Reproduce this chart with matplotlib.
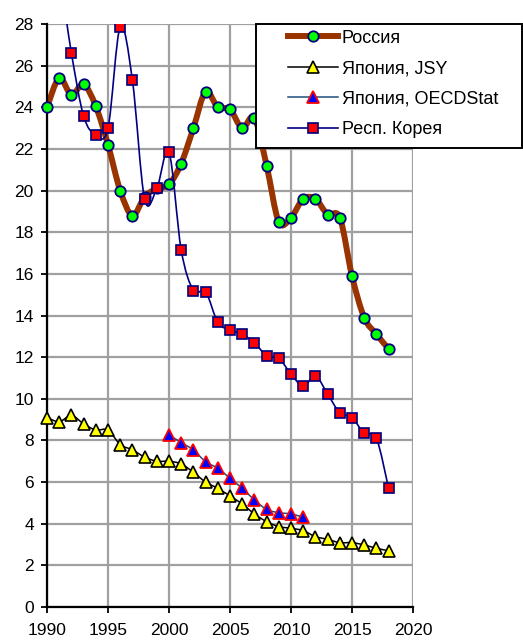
import numpy as np
import matplotlib.pyplot as plt
from matplotlib.path import Path
from matplotlib.patches import PathPatch, Rectangle
from matplotlib.lines import Line2D

plt.rcParams['font.family'] = ['Liberation Sans', 'DejaVu Sans']

# данные
years_ru = list(range(1990, 2019))
russia = [24.0, 25.4, 24.6, 25.1, 24.05, 22.2, 20.0, 18.8, 19.7, 20.1,
          20.3, 21.3, 23.0, 24.75, 24.0, 23.9, 23.0, 23.5, 21.2, 18.5,
          18.7, 19.6, 19.6, 18.85, 18.7, 15.9, 13.9, 13.1, 12.4]

years_jsy = list(range(1990, 2019))
japan_jsy = [9.1, 8.9, 9.2, 8.8, 8.5, 8.5, 7.8, 7.55, 7.2, 7.0,
             7.0, 6.87, 6.47, 6.0, 5.7, 5.33, 4.95, 4.47, 4.1, 3.86,
             3.78, 3.67, 3.38, 3.25, 3.09, 3.09, 2.98, 2.82, 2.7]

years_oecd = list(range(2000, 2012))
japan_oecd = [8.26, 7.9, 7.54, 6.98, 6.66, 6.18, 5.7, 5.14, 4.69, 4.53, 4.47, 4.31]

years_kor = list(range(1990, 2019))
korea = [31.2, 30.3, 26.6, 23.58, 22.67, 23.0, 27.87, 25.3, 19.6, 20.1,
         21.84, 17.15, 15.2, 15.14, 13.67, 13.3, 13.1, 12.7, 12.06, 11.94,
         11.19, 10.6, 11.1, 10.23, 9.33, 9.1, 8.34, 8.1, 5.7]

labels = ['Россия', 'Япония, JSY', 'Япония, OECDStat', 'Респ. Корея']


def smooth_path(x, y):
    # сглаженная линия как в Excel (кубические Безье)
    x = np.asarray(x, float)
    y = np.asarray(y, float)
    n = len(x)
    verts = [(x[0], y[0])]
    codes = [Path.MOVETO]
    for i in range(n - 1):
        i0 = max(i - 1, 0)
        i3 = min(i + 2, n - 1)
        c1 = (x[i] + (x[i + 1] - x[i0]) / 6, y[i] + (y[i + 1] - y[i0]) / 6)
        c2 = (x[i + 1] - (x[i3] - x[i]) / 6, y[i + 1] - (y[i3] - y[i]) / 6)
        verts += [c1, c2, (x[i + 1], y[i + 1])]
        codes += [Path.CURVE4] * 3
    return Path(verts, codes)


fig = plt.figure(figsize=(5.23, 6.42), dpi=100)
ax = fig.add_axes([47 / 523, 35 / 642, 366 / 523, 583 / 642])

series = [
    (years_ru, russia, dict(color='#993300', lw=4.3), dict(marker='o', ms=7.5, mfc='#00FF00', mec='#000080', mew=1.3), False),
    (years_jsy, japan_jsy, dict(color='black', lw=1.1), dict(marker='^', ms=8.5, mfc='#FFFF00', mec='black', mew=1.2), False),
    (years_oecd, japan_oecd, dict(color='#1F4E79', lw=1.1), dict(marker='^', ms=8.5, mfc='#0000FF', mec='#FF0000', mew=1.3), False),
    (years_kor, korea, dict(color='#000080', lw=1.2), dict(marker='s', ms=7, mfc='#FF0000', mec='#000080', mew=1.2), True),
]

handles = []
for k, (xs, ys, lstyle, mstyle, clip) in enumerate(series):
    patch = PathPatch(smooth_path(xs, ys), fill=False, edgecolor=lstyle['color'],
                      lw=lstyle['lw'], zorder=2 + k * 2, capstyle='round', joinstyle='round')
    ax.add_patch(patch)
    ax.plot(xs, ys, ls='none', zorder=3 + k * 2, clip_on=clip, **mstyle)
    handles.append(Line2D([], [], ls='-', **lstyle, **mstyle))

ax.set_xlim(1990, 2020)
ax.set_ylim(0, 28)
ax.set_xticks(range(1990, 2021, 5))
ax.set_yticks(range(0, 29, 2))
ax.grid(True, color='#A0A0A0', lw=1.6)
ax.set_axisbelow(True)
for s in ['top', 'right']:
    ax.spines[s].set_visible(False)
ax.spines['left'].set_linewidth(1.6)
ax.spines['bottom'].set_linewidth(1.6)
ax.tick_params(direction='out', length=4.5, width=1.3, labelsize=12.5)
ax.tick_params(axis='y', pad=5)
ax.tick_params(axis='x', pad=7)

# рамка легенды (шире содержимого, как в Excel)
fig.patches.append(Rectangle((256 / 523, (642 - 148) / 642), 266 / 523, 124 / 642,
                             transform=fig.transFigure, facecolor='white',
                             edgecolor='black', lw=1.4, zorder=3))
fig.legend(handles, labels, loc='upper left', bbox_to_anchor=(285 / 523, (642 - 27) / 642),
           frameon=False, fontsize=13, handlelength=2.8, handletextpad=0.2,
           labelspacing=0.75, borderpad=0.15, borderaxespad=0)

plt.savefig('out.png', dpi=100)
